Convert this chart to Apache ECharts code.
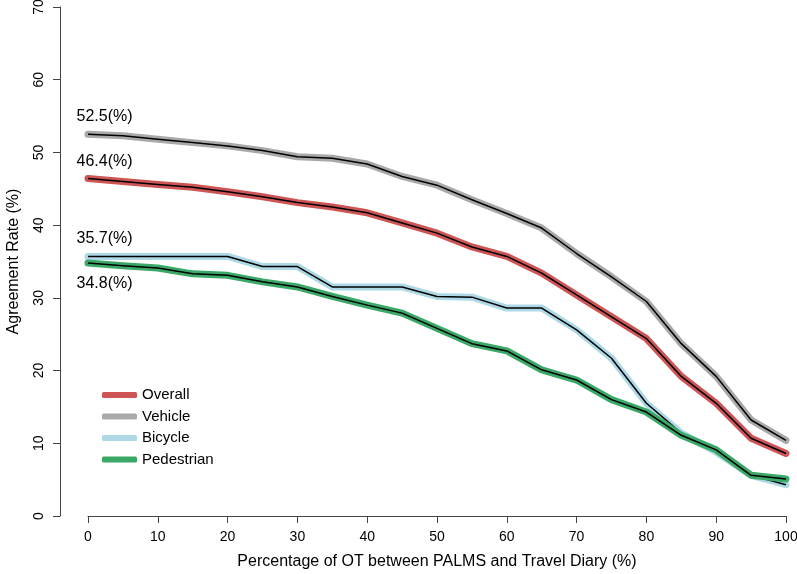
<!DOCTYPE html>
<html><head><meta charset="utf-8">
<script src="https://cdn.jsdelivr.net/npm/echarts@6/dist/echarts.min.js"></script>
<style>html,body{margin:0;padding:0;background:#fff}#c{width:797px;height:574px}</style>
</head><body><div id="c"></div>
<script>
const xValues    = [0,5,10,15,20,25,30,35,40,45,50,55,60,65,70,75,80,85,90,95,100];
const overall    = [46.4,46.0,45.6,45.2,44.6,43.9,43.1,42.5,41.7,40.3,38.9,37.0,35.7,33.4,30.4,27.4,24.4,19.2,15.5,10.7,8.6];
const vehicle    = [52.5,52.3,51.8,51.35,50.9,50.25,49.4,49.2,48.4,46.7,45.5,43.5,41.6,39.6,36.1,32.9,29.5,23.7,19.2,13.2,10.4];
const bicycle    = [35.7,35.7,35.7,35.7,35.7,34.3,34.3,31.5,31.5,31.5,30.2,30.1,28.6,28.6,25.6,21.7,15.5,11.4,8.8,5.6,4.3];
const pedestrian = [34.8,34.4,34.1,33.3,33.1,32.2,31.5,30.2,29.0,27.9,25.8,23.7,22.7,20.1,18.7,16.0,14.3,11.1,9.1,5.6,5.1];
const seriesNames  = ['Overall','Vehicle','Bicycle','Pedestrian'];
const seriesValues = [overall, vehicle, bicycle, pedestrian];
const seriesColors = ['#cd5555','#a9a9a9','#add8e6','#3aa866'];
const labelBelow   = [false,false,false,true];
const xTicks = [0,10,20,30,40,50,60,70,80,90,100];
const yTicks = [0,10,20,30,40,50,60,70];

const FONT = 'Liberation Sans, Arial, sans-serif';
const series = [];
seriesValues.forEach((vals, i) => {
  const pts = xValues.map((x, j) => [x, vals[j]]);
  series.push({
    name: seriesNames[i], type: 'line', data: pts, symbol: 'none', clip: false,
    lineStyle: { color: seriesColors[i], width: 7, cap: 'round', join: 'round' },
    itemStyle: { color: seriesColors[i] }, silent: true, z: 2 + i * 2
  });
  series.push({
    name: '_' + seriesNames[i], type: 'line', clip: false, silent: true, z: 3 + i * 2,
    symbol: 'circle', symbolSize: 1, showSymbol: true,
    itemStyle: { color: 'rgba(0,0,0,0)', borderWidth: 0 },
    lineStyle: { color: '#000', width: 1.5, join: 'round' },
    data: pts.map((p, j) => j === 0 ? {
      value: p,
      label: {
        show: true, formatter: v => v.value[1].toFixed(1) + '(%)',
        position: labelBelow[i] ? [-11, 13] : [-11, -25],
        align: 'left', verticalAlign: 'top',
        fontFamily: FONT, fontSize: 16, color: '#000'
      }
    } : { value: p })
  });
});

const chart = echarts.init(document.getElementById('c'), null, { renderer: 'canvas' });
chart.setOption({
  animation: false,
  backgroundColor: '#fff',
  grid: { left: 88, right: 11, top: 7, bottom: 58, containLabel: false, outerBoundsMode: 'none' },
  legend: {
    data: seriesNames, orient: 'vertical', left: 97, top: 382,
    itemWidth: 35, itemHeight: 6, itemGap: 5.5,
    icon: 'roundRect',
    textStyle: { fontFamily: FONT, fontSize: 15, color: '#000', lineHeight: 16 }
  },
  xAxis: {
    type: 'value', min: 0, max: 100, interval: 10,
    name: 'Percentage of OT between PALMS and Travel Diary (%)',
    nameLocation: 'middle', nameGap: 38,
    nameTextStyle: { fontFamily: FONT, fontSize: 16, color: '#000' },
    axisLine: { show: true, lineStyle: { color: '#444', width: 1 } },
    axisTick: { show: true, length: 7, lineStyle: { color: '#444' } },
    axisLabel: { fontFamily: FONT, fontSize: 14, color: '#000', margin: 14,
      customValues: xTicks },
    splitLine: { show: false }
  },
  yAxis: {
    type: 'value', min: 0, max: 70, interval: 10, offset: 28,
    name: 'Agreement Rate (%)', nameLocation: 'middle', nameGap: 38,
    nameTextStyle: { fontFamily: FONT, fontSize: 16, color: '#000' },
    axisLine: { show: true, onZero: false, lineStyle: { color: '#444', width: 1 } },
    axisTick: { show: true, length: 7, lineStyle: { color: '#444' } },
    axisLabel: { fontFamily: FONT, fontSize: 14, color: '#000', rotate: 90, margin: 14 },
    splitLine: { show: false }
  },
  series: series
});
</script></body></html>
